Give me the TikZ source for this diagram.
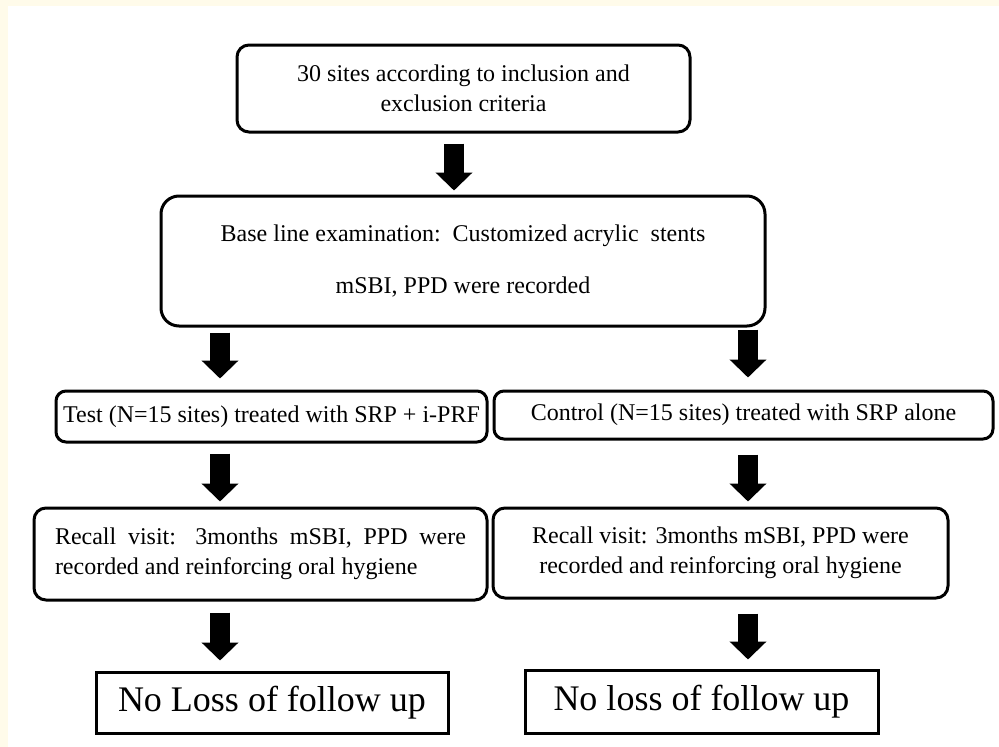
\documentclass[tikz,border=0pt]{standalone}
\usepackage{fontspec}
\setmainfont{Liberation Serif}
\usetikzlibrary{arrows.meta,calc}
\definecolor{cream}{HTML}{FFFBEA}
\begin{document}
\begin{tikzpicture}[x=1pt,y=1pt,
  box/.style={draw=black, line width=3pt, rounded corners=12pt, fill=white,
    inner sep=0pt, font=\fontsize{24}{30}\selectfont, align=center},
  endbox/.style={draw=black, line width=3pt, fill=white, inner sep=0pt,
    font=\fontsize{36}{40}\selectfont},
  blk/.style={line width=20pt, black, -{Triangle[width=36pt,length=18pt]}}
]
\useasboundingbox (0,0) rectangle (999,-747);
\fill[cream] (0,0) rectangle (999,-747);
\fill[white] (8,-6) rectangle (999,-747);

\node[box, minimum width=453pt, minimum height=87pt] (top) at (463.5,-88.5)
  {30 sites according to inclusion and\\exclusion criteria};
\node[box, rounded corners=18pt, minimum width=604pt, minimum height=130pt] (base) at (463,-261)
  {Base line examination:\ \ Customized acrylic\ \ stents\\[22pt]mSBI, PPD were recorded};
\node[box, rounded corners=10pt, minimum width=431pt, minimum height=51pt] (test) at (271.5,-416.5)
  {Test (N=15 sites) treated with SRP + i-PRF};
\node[box, rounded corners=10pt, minimum width=499pt, minimum height=48pt] (ctrl) at (743.5,-415)
  {Control (N=15 sites) treated with SRP alone};
\node[box, minimum width=453pt, minimum height=92pt, text width=411pt, align=justify] (recL) at (260.5,-554)
  {Recall visit: 3months mSBI, PPD were\linebreak recorded and reinforcing oral hygiene};
\node[box, minimum width=455pt, minimum height=90pt] (recR) at (720.5,-553)
  {Recall visit: 3months mSBI, PPD were\\recorded and reinforcing oral hygiene};
\node[endbox, minimum width=352pt, minimum height=61pt] (nlL) at (272,-702.5)
  {No Loss of follow up};
\node[endbox, minimum width=353pt, minimum height=63pt] (nlR) at (701.5,-701.5)
  {No loss of follow up};

\coordinate (cx) at (454,0);
\coordinate (lx) at (220,0);
\coordinate (rx) at (748,0);

\draw[blk] ([yshift=-10pt]top.south -| cx) -- ([yshift=4pt]base.north -| cx);
\draw[blk] ([yshift=-5pt]base.south -| lx) -- ([yshift=11pt]test.north -| lx);
\draw[blk] ([yshift=-2pt]base.south -| rx) -- ([yshift=12pt]ctrl.north -| rx);
\draw[blk] ([yshift=-10pt]test.south -| lx) -- ([yshift=5pt]recL.north -| lx);
\draw[blk] ([yshift=-14pt]ctrl.south -| rx) -- ([yshift=5pt]recR.north -| rx);
\draw[blk] ([yshift=-11pt]recL.south -| lx) -- ([yshift=10pt]nlL.north -| lx);
\draw[blk] ([yshift=-14pt]recR.south -| rx) -- ([yshift=9pt]nlR.north -| rx);
\end{tikzpicture}
\end{document}
